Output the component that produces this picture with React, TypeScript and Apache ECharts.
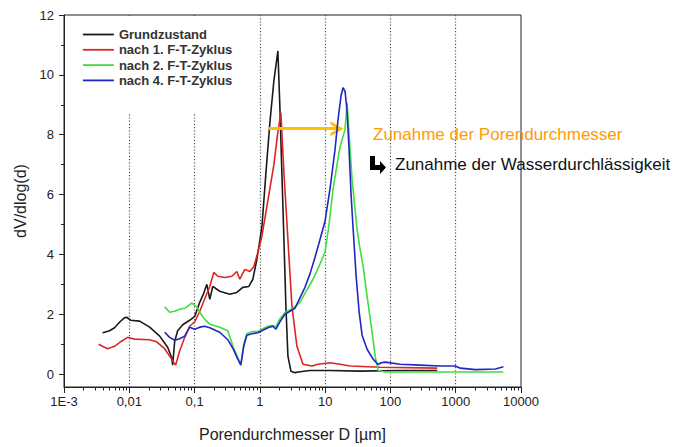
import React, { useEffect, useRef } from "react";
import * as echarts from "echarts";

const FONT = '"Liberation Sans", Arial, Helvetica, sans-serif';

const seriesNames = [
  "Grundzustand",
  "nach 1. F-T-Zyklus",
  "nach 2. F-T-Zyklus",
  "nach 4. F-T-Zyklus",
];
const seriesColors = ["#1a1a1a", "#dc2626", "#3fdf3f", "#2424c4"];

// [Porendurchmesser D in µm, dV/dlog(d)]
const grundzustand: [number, number][] = [
  [0.0039, 1.38], [0.00417, 1.4], [0.00498, 1.45], [0.00594, 1.55], [0.0072, 1.75],
  [0.0084, 1.88], [0.0091, 1.9], [0.0105, 1.8], [0.0144, 1.77], [0.0205, 1.57],
  [0.0292, 1.27], [0.0387, 0.9], [0.0446, 0.55], [0.0462, 0.3], [0.0496, 1.1],
  [0.0551, 1.45], [0.0658, 1.65], [0.0842, 1.8], [0.1005, 1.93], [0.12, 2.4],
  [0.138, 2.7], [0.154, 3.0], [0.171, 2.5], [0.19, 2.93], [0.243, 2.77],
  [0.346, 2.67], [0.444, 2.73], [0.548, 2.9], [0.678, 2.93], [0.781, 3.17],
  [0.899, 3.83], [1.073, 4.9], [1.236, 6.7], [1.424, 8.4], [1.64, 9.8],
  [1.889, 10.8], [2.028, 8.9], [2.255, 5.6], [2.507, 2.27], [2.691, 0.6],
  [2.992, 0.1], [3.446, 0.05], [4.112, 0.08], [5.856, 0.12], [11.88, 0.12],
  [34.3, 0.1], [141, 0.12], [521, 0.12],
];

const nach1: [number, number][] = [
  [0.00338, 1.0], [0.00464, 0.85], [0.00594, 0.93], [0.0076, 1.1], [0.0094, 1.23],
  [0.01205, 1.17], [0.0205, 1.15], [0.02623, 1.08], [0.0348, 0.85], [0.0415, 0.6],
  [0.0513, 0.3], [0.0591, 0.77], [0.0706, 1.23], [0.0842, 1.6], [0.1005, 1.75],
  [0.12, 2.1], [0.1483, 2.6], [0.171, 2.93], [0.197, 3.4], [0.227, 3.27],
  [0.29, 3.23], [0.372, 3.27], [0.444, 3.43], [0.493, 3.17], [0.588, 3.5],
  [0.702, 3.43], [0.809, 3.6], [0.932, 4.07], [1.073, 4.6], [1.327, 5.8],
  [1.64, 7.0], [1.889, 8.1], [2.101, 8.73], [2.336, 6.73], [2.691, 4.5],
  [3.099, 2.27], [3.698, 0.93], [4.571, 0.33], [6.284, 0.27], [7.77, 0.33],
  [11.88, 0.38], [16.91, 0.33], [24.08, 0.27], [69.5, 0.23], [521, 0.2],
];

const nach2: [number, number][] = [
  [0.0348, 2.25], [0.0415, 2.07], [0.0496, 2.1], [0.0591, 2.17], [0.0706, 2.2],
  [0.0904, 2.37], [0.108, 2.25], [0.12, 2.07], [0.143, 1.83], [0.171, 1.67],
  [0.243, 1.57], [0.323, 1.45], [0.399, 0.85], [0.459, 0.55], [0.511, 0.33],
  [0.568, 1.0], [0.632, 1.35], [0.754, 1.42], [0.932, 1.42], [1.073, 1.5],
  [1.327, 1.6], [1.584, 1.63], [1.76, 1.58], [2.028, 1.85], [2.42, 2.05],
  [3.211, 2.2], [4.112, 2.4], [4.907, 2.7], [6.511, 3.17], [8.05, 3.6],
  [9.95, 4.07], [11.47, 5.0], [13.2, 6.17], [15.21, 7.0], [16.91, 7.6],
  [20.18, 8.17], [21.66, 9.07], [22.84, 8.3], [25.84, 6.5], [30.84, 4.83],
  [34.3, 4.17], [38.14, 3.6], [43.9, 2.6], [52.42, 1.4], [58.3, 0.6],
  [64.8, 0.12], [83.0, 0.07], [5375, 0.07],
];

const nach4: [number, number][] = [
  [0.0348, 1.4], [0.0415, 1.23], [0.0496, 1.13], [0.0591, 1.18], [0.0706, 1.27],
  [0.0842, 1.57], [0.1005, 1.5], [0.12, 1.57], [0.143, 1.6], [0.171, 1.55],
  [0.243, 1.4], [0.323, 1.15], [0.399, 0.8], [0.459, 0.5], [0.511, 0.3],
  [0.568, 0.95], [0.632, 1.3], [0.754, 1.35], [0.932, 1.38], [1.073, 1.45],
  [1.327, 1.55], [1.584, 1.6], [1.76, 1.5], [2.028, 1.75], [2.42, 2.0],
  [2.888, 2.1], [3.446, 2.2], [4.112, 2.55], [4.907, 2.9], [5.856, 3.35],
  [6.987, 3.9], [8.34, 4.5], [9.95, 5.1], [11.88, 6.2], [14.17, 7.5],
  [15.75, 8.5], [17.52, 9.3], [18.8, 9.57], [20.18, 9.45], [21.66, 8.8],
  [23.25, 7.5], [24.95, 6.0], [26.77, 4.9], [29.77, 3.3], [33.11, 2.1],
  [36.81, 1.3], [43.9, 0.83], [54.3, 0.5], [64.8, 0.32], [72.0, 0.38],
  [83.0, 0.4], [141, 0.33], [286, 0.3], [580, 0.27], [985, 0.27],
  [1175, 0.2], [2000, 0.15], [4052, 0.17], [5375, 0.25],
];

const xTickLabels = ["1E-3", "0,01", "0,1", "1", "10", "100", "1000", "10000"];
const xMin = 0.001;
const xMax = 10000;
const yMin = -0.43;
const yMax = 12;
const yTickValues = [0, 2, 4, 6, 8, 10, 12];
const yMinorTickValues = [1, 3, 5, 7, 9, 11];
const xDecadeExponents = [-3, -2, -1, 0, 1, 2, 3];
const xMinorMultipliers = [2, 3, 4, 5, 6, 7, 8, 9];

const arrowStart: [number, number] = [1.37, 8.2];
const arrowEnd: [number, number] = [15.2, 8.2];

const annotationMain = "Zunahme der Porendurchmesser";
const annotationSub = "Zunahme der Wasserdurchlässigkeit";

const xMinorTickExps: number[] = [];
xDecadeExponents.forEach((e) =>
  xMinorMultipliers.forEach((m) => xMinorTickExps.push(e + Math.log10(m)))
);

const chevron = "path://M0,13 L8,0 L16,13 L12.6,13 L8,5.6 L3.4,13 Z";

export default function App() {
  const ref = useRef<HTMLDivElement>(null);

  useEffect(() => {
    document.body.style.margin = "0";
    const chart = echarts.init(ref.current!, undefined, {
      renderer: "svg",
      width: 677,
      height: 447,
    });
    const allData = [grundzustand, nach1, nach2, nach4];
    const axisColor = "#222";

    const series: any[] = allData.map((d, i) => ({
      name: seriesNames[i],
      type: "line",
      xAxisIndex: 0,
      yAxisIndex: 0,
      data: d,
      symbol: "none",
      showSymbol: false,
      smooth: false,
      color: seriesColors[i],
      lineStyle: { color: seriesColors[i], width: 1.6 },
      emphasis: { disabled: true },
      z: 2 + i,
    }));

    series[3].markLine = {
      silent: true,
      symbol: ["none", chevron],
      symbolSize: [15, 13],
      label: { show: false },
      emphasis: { disabled: true },
      lineStyle: { color: "#ffc000", width: 3, type: "solid" },
      data: [[{ coord: arrowStart }, { coord: arrowEnd }]],
    };

    chart.setOption({
      animation: false,
      backgroundColor: "#ffffff",
      textStyle: { fontFamily: FONT },
      grid: {
        left: 64,
        top: 15,
        width: 457,
        height: 373,
        show: true,
        borderColor: axisColor,
        borderWidth: 1,
        backgroundColor: "transparent",
      },
      legend: {
        orient: "vertical",
        left: 65,
        top: 16,
        data: seriesNames,
        backgroundColor: "#ffffff",
        padding: [12, 10, 27, 17],
        itemWidth: 31,
        itemHeight: 14,
        itemGap: 2.3,
        selectedMode: false,
        itemStyle: { color: "rgba(0,0,0,0)", borderWidth: 0, opacity: 0 },
        lineStyle: { width: 1.8 },
        textStyle: { fontSize: 13, fontWeight: "bold", color: "#333", fontFamily: FONT },
      },
      xAxis: [
        {
          type: "log",
          logBase: 10,
          min: xMin,
          max: xMax,
          position: "bottom",
          name: "Porendurchmesser D [µm]",
          nameLocation: "middle",
          nameGap: 39,
          nameTextStyle: { fontSize: 16, color: axisColor, fontFamily: FONT },
          axisLine: { show: true, onZero: false, lineStyle: { color: axisColor, width: 1 } },
          axisTick: { show: true, inside: false, length: 6, lineStyle: { color: axisColor } },
          axisLabel: {
            fontSize: 13,
            color: axisColor,
            fontFamily: FONT,
            formatter: (v: number) => xTickLabels[Math.round(Math.log10(v)) + 3] ?? "",
          },
          splitLine: {
            show: true,
            showMinLine: false,
            showMaxLine: false,
            lineStyle: { color: "#555", type: [1.2, 2], width: 1.2 },
          },
        },
        {
          type: "value",
          min: -3,
          max: 4,
          position: "bottom",
          axisLine: { show: false, onZero: false },
          axisLabel: { show: false },
          splitLine: { show: false },
          axisTick: {
            show: true,
            inside: false,
            length: 3.5,
            customValues: xMinorTickExps,
            lineStyle: { color: axisColor },
          },
        },
      ],
      yAxis: [
        {
          type: "value",
          min: yMin,
          max: yMax,
          position: "left",
          name: "dV/dlog(d)",
          nameLocation: "middle",
          nameGap: 29,
          nameTextStyle: { fontSize: 16, color: axisColor, fontFamily: FONT },
          axisLine: { show: true, onZero: false, lineStyle: { color: axisColor, width: 1 } },
          axisTick: {
            show: true,
            inside: false,
            length: 5,
            customValues: yTickValues,
            lineStyle: { color: axisColor },
          },
          axisLabel: {
            fontSize: 13,
            color: axisColor,
            margin: 10,
            fontFamily: FONT,
            customValues: yTickValues,
          },
          splitLine: { show: false },
        },
        {
          type: "value",
          min: yMin,
          max: yMax,
          position: "left",
          axisLine: { show: false, onZero: false },
          axisLabel: { show: false },
          splitLine: { show: false },
          axisTick: {
            show: true,
            inside: false,
            length: 3,
            customValues: yMinorTickValues,
            lineStyle: { color: axisColor },
          },
        },
      ],
      graphic: [
        {
          type: "text",
          x: 373,
          y: 134,
          z: 100,
          style: {
            text: annotationMain,
            fill: "#ff9c00",
            font: `17px ${FONT}`,
            align: "left",
            verticalAlign: "middle",
          },
        },
        {
          type: "polygon",
          z: 100,
          shape: {
            points: [
              [370, 156], [375, 156], [375, 165], [380, 165], [380, 161],
              [386, 167.5], [380, 174], [380, 170], [370, 170],
            ],
          },
          style: { fill: "#000" },
        },
        {
          type: "text",
          x: 395,
          y: 164,
          z: 100,
          style: {
            text: annotationSub,
            fill: "#111",
            font: `17px ${FONT}`,
            align: "left",
            verticalAlign: "middle",
          },
        },
      ],
      series,
    });
    return () => chart.dispose();
  }, []);

  return <div ref={ref} style={{ width: 677, height: 447 }} />;
}
